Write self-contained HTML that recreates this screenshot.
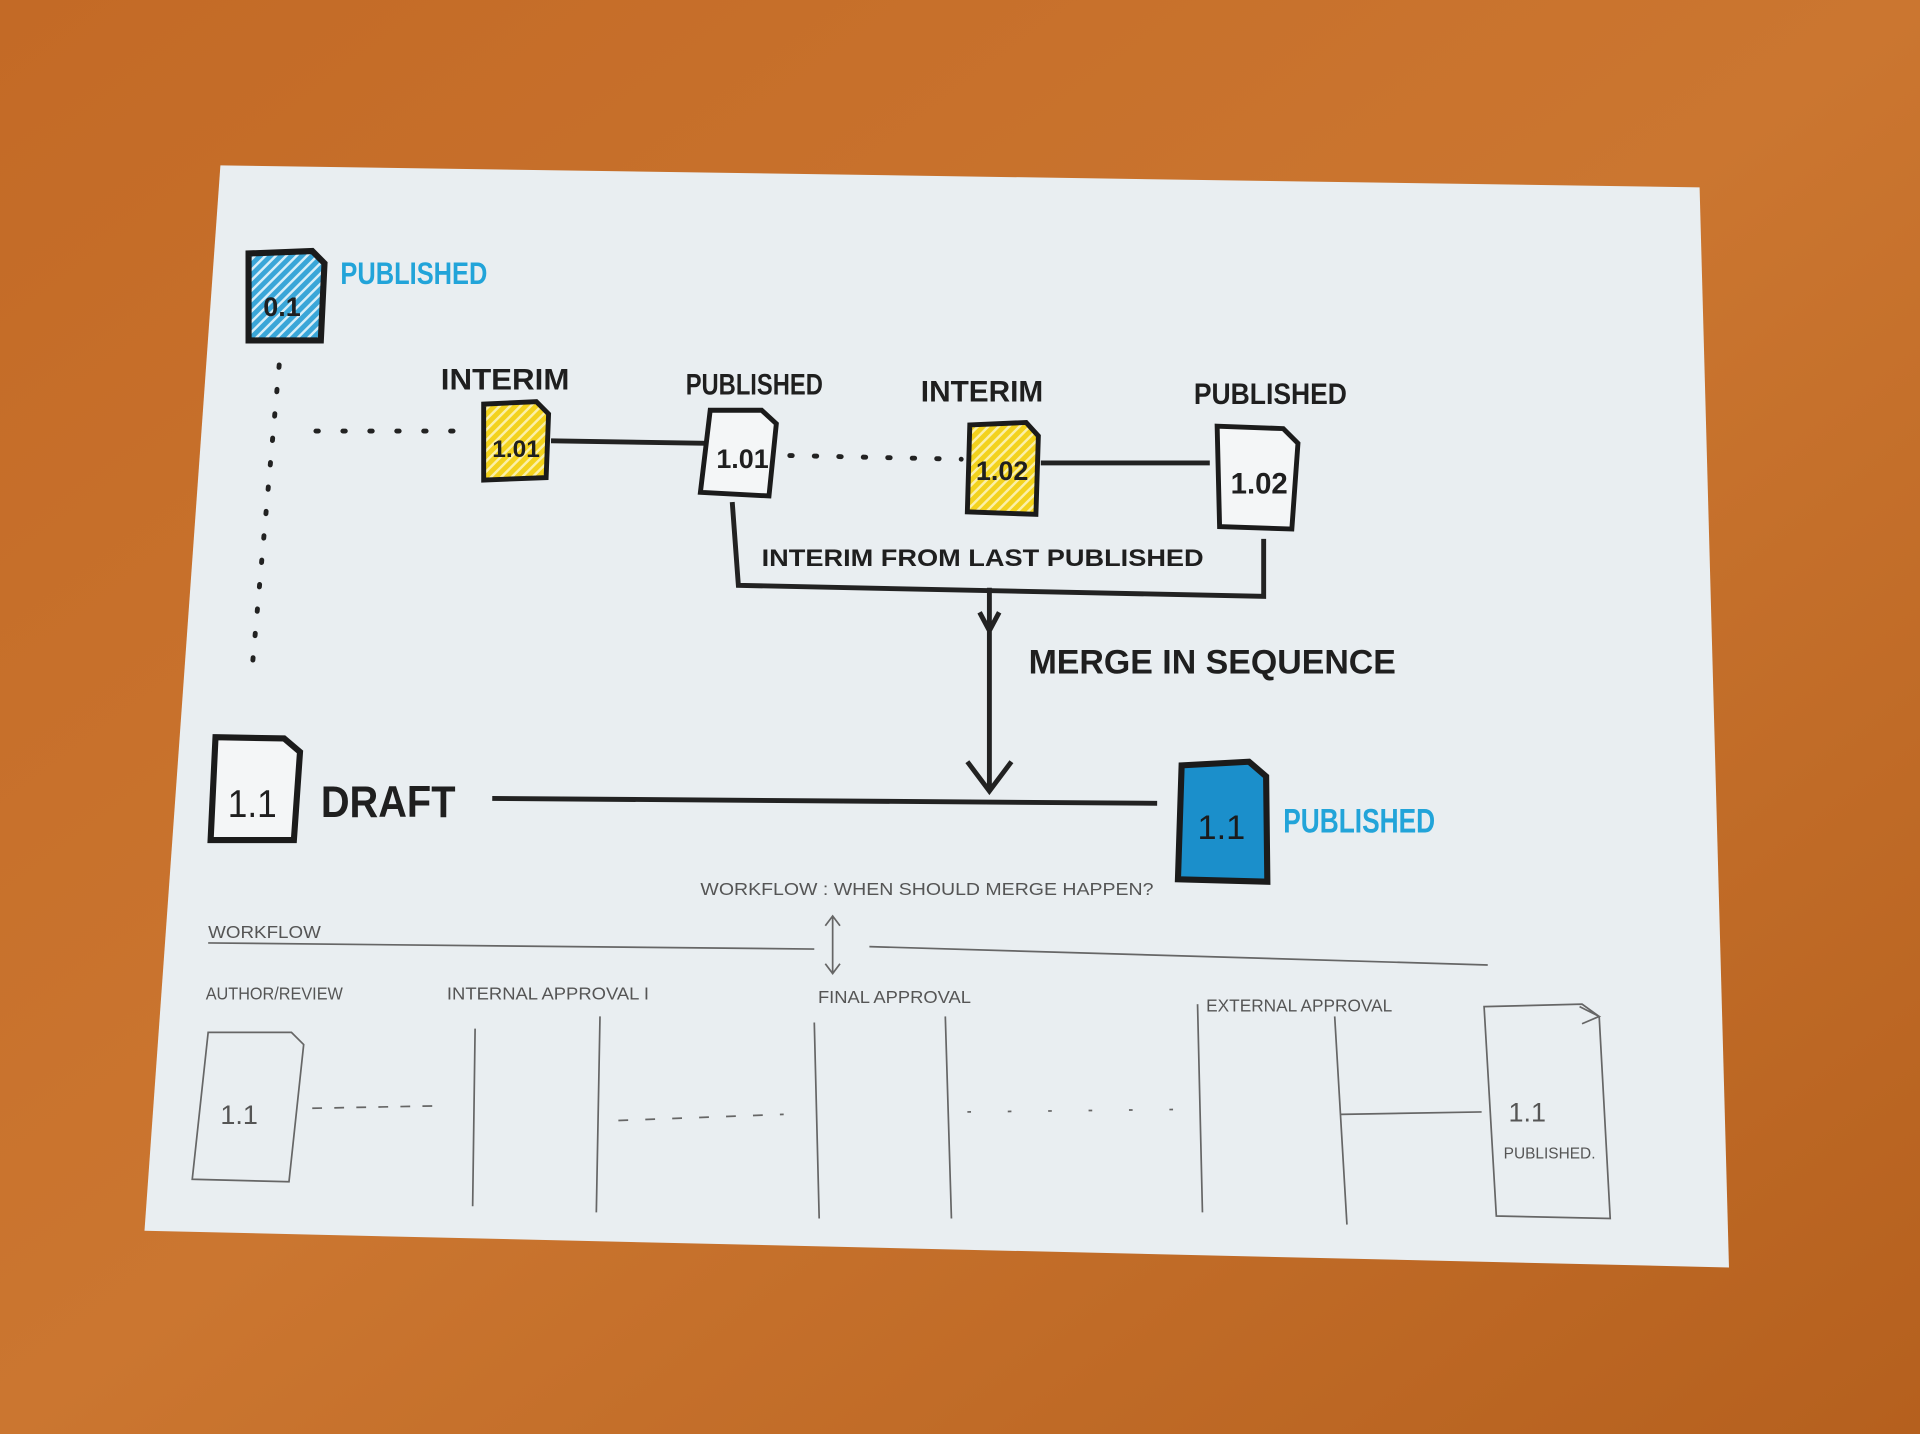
<!DOCTYPE html>
<html><head><meta charset="utf-8"><style>
html,body{margin:0;padding:0;width:1920px;height:1434px;overflow:hidden;background:#c7722e}
svg{display:block}
</style></head><body>
<svg width="1920" height="1434" viewBox="0 0 1568 1171" preserveAspectRatio="none" xmlns="http://www.w3.org/2000/svg">
<defs>
<linearGradient id="wood" x1="0" y1="0" x2="1" y2="1">
<stop offset="0" stop-color="#c36a26"/><stop offset="0.5" stop-color="#cb7630"/><stop offset="1" stop-color="#b5601e"/>
</linearGradient>
<pattern id="hb" width="6" height="6" patternUnits="userSpaceOnUse" patternTransform="rotate(45)">
<rect width="6" height="6" fill="#3aa6d8"/><rect width="2" height="6" fill="#d8eef8"/></pattern>
<pattern id="hy" width="6" height="6" patternUnits="userSpaceOnUse" patternTransform="rotate(45)">
<rect width="6" height="6" fill="#f3d21d"/><rect width="2" height="6" fill="#fbf0a8"/></pattern>
</defs>
<rect width="1568" height="1171" fill="url(#wood)"/>
<polygon points="180,135 1388,153 1412,1035 118,1005" fill="#e9eef1"/>
<g font-family="Liberation Sans, sans-serif" font-weight="bold" fill="#1f1f1f">
<polygon points="203,207 255,205 265,215 262,278 203,278" fill="url(#hb)" stroke="#1b1b1b" stroke-width="5"/>
<text x="215" y="258" font-size="22">0.1</text>
<text x="278" y="232" font-size="26" fill="#22a4d9" textLength="120" lengthAdjust="spacingAndGlyphs">PUBLISHED</text>
<path d="M228,298 L205,556" stroke="#222" stroke-width="4" stroke-dasharray="2 18" stroke-linecap="round"/>
<path d="M258,352 L382,352" stroke="#222" stroke-width="4" stroke-dasharray="2 20" stroke-linecap="round"/>
<text x="360" y="318" font-size="24" textLength="105" lengthAdjust="spacingAndGlyphs">INTERIM</text>
<polygon points="395,330 438,328 448,338 446,390 395,392" fill="url(#hy)" stroke="#1b1b1b" stroke-width="4"/>
<text x="402" y="373" font-size="20">1.01</text>
<path d="M450,360 L578,362" stroke="#222" stroke-width="4"/>
<text x="560" y="322" font-size="24" textLength="112" lengthAdjust="spacingAndGlyphs">PUBLISHED</text>
<polygon points="580,335 622,335 634,346 628,405 572,402" fill="#f4f6f7" stroke="#1b1b1b" stroke-width="4"/>
<text x="585" y="382" font-size="22">1.01</text>
<path d="M645,372 L785,375" stroke="#222" stroke-width="4" stroke-dasharray="2 18" stroke-linecap="round"/>
<text x="752" y="328" font-size="24" textLength="100" lengthAdjust="spacingAndGlyphs">INTERIM</text>
<polygon points="792,347 838,345 848,356 846,420 790,418" fill="url(#hy)" stroke="#1b1b1b" stroke-width="4"/>
<text x="797" y="392" font-size="22">1.02</text>
<path d="M850,378 L988,378" stroke="#222" stroke-width="4"/>
<text x="975" y="330" font-size="24" textLength="125" lengthAdjust="spacingAndGlyphs">PUBLISHED</text>
<polygon points="994,348 1048,350 1060,362 1055,432 996,430" fill="#f4f6f7" stroke="#1b1b1b" stroke-width="4"/>
<text x="1005" y="403" font-size="24">1.02</text>
<path d="M598,410 L603,478 L1032,487 L1032,440" fill="none" stroke="#222" stroke-width="4"/>
<text x="622" y="462" font-size="20" textLength="361" lengthAdjust="spacingAndGlyphs">INTERIM FROM LAST PUBLISHED</text>
<path d="M808,480 L808,645 M790,622 L808,646 L826,622 M800,500 L808,515 L816,500" fill="none" stroke="#222" stroke-width="4"/>
<text x="840" y="550" font-size="28" textLength="300" lengthAdjust="spacingAndGlyphs">MERGE IN SEQUENCE</text>
<polygon points="176,602 232,603 245,614 240,686 172,686" fill="#f4f6f7" stroke="#1b1b1b" stroke-width="5"/>
<text x="186" y="667" font-size="32" font-weight="normal" textLength="40" lengthAdjust="spacingAndGlyphs">1.1</text>
<text x="262" y="667" font-size="36" textLength="110" lengthAdjust="spacingAndGlyphs">DRAFT</text>
<path d="M402,652 L945,656" stroke="#222" stroke-width="4"/>
<polygon points="965,625 1020,622 1034,634 1035,720 962,718" fill="#1b8fcb" stroke="#1b1b1b" stroke-width="5"/>
<text x="978" y="685" font-size="28" font-weight="normal" fill="#1b1b1b">1.1</text>
<text x="1048" y="680" font-size="28" fill="#22a4d9" textLength="124" lengthAdjust="spacingAndGlyphs">PUBLISHED</text>
</g>
<g font-family="Liberation Sans, sans-serif" fill="#555" stroke="none" font-size="14">
<text x="572" y="731" textLength="370" lengthAdjust="spacingAndGlyphs">WORKFLOW : WHEN SHOULD MERGE HAPPEN?</text>
<text x="170" y="766" textLength="92" lengthAdjust="spacingAndGlyphs">WORKFLOW</text>
<text x="168" y="816" textLength="112" lengthAdjust="spacingAndGlyphs">AUTHOR/REVIEW</text>
<text x="365" y="816" textLength="165" lengthAdjust="spacingAndGlyphs">INTERNAL APPROVAL I</text>
<text x="668" y="819" textLength="125" lengthAdjust="spacingAndGlyphs">FINAL APPROVAL</text>
<text x="985" y="826" textLength="152" lengthAdjust="spacingAndGlyphs">EXTERNAL APPROVAL</text>
<text x="180" y="918" font-size="22">1.1</text>
<text x="1232" y="916" font-size="22">1.1</text>
<text x="1228" y="946" font-size="13" textLength="75" lengthAdjust="spacingAndGlyphs">PUBLISHED.</text>
</g>
<g fill="none" stroke="#666" stroke-width="1.4">
<path d="M680,748 L680,795 M674,756 L680,748 L686,756 M674,787 L680,795 L686,787"/>
<path d="M170,770 L665,775 M710,773 L1215,788"/>
<path d="M170,843 L238,843 L248,853 L236,965 L157,963 Z"/>
<path d="M255,905 L360,903" stroke-dasharray="8 10"/>
<path d="M388,840 L386,985 M490,830 L487,990 M665,835 L669,995 M772,830 L777,995 M978,820 L982,990 M1090,830 L1100,1000"/>
<path d="M505,915 L640,910" stroke-dasharray="8 14"/>
<path d="M790,908 L960,906" stroke-dasharray="3 30"/>
<path d="M1095,910 L1210,908"/>
<path d="M1212,822 L1292,820 L1306,830 L1315,995 L1222,993 Z M1290,822 L1306,830 L1292,836"/>
</g>
</svg>
</body></html>
